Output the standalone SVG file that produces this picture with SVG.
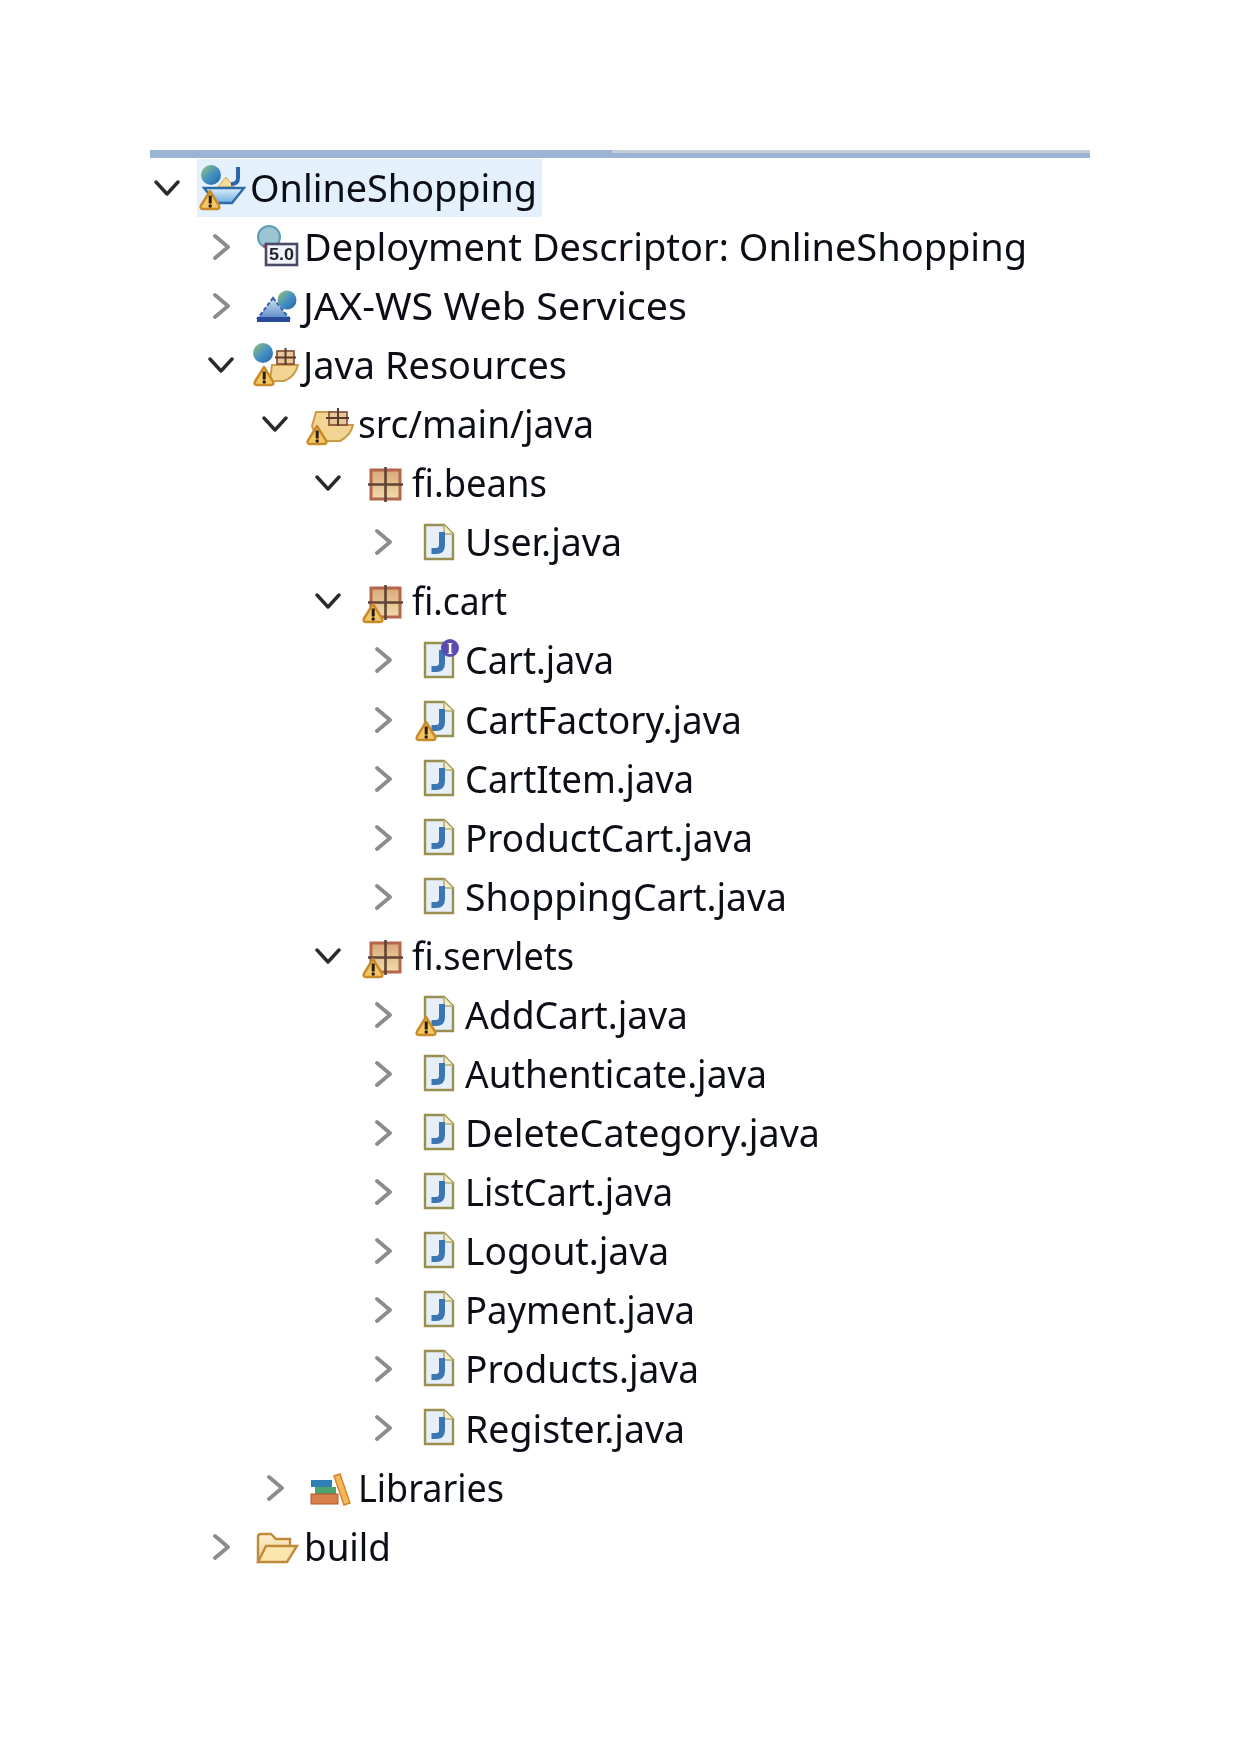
<svg xmlns="http://www.w3.org/2000/svg" width="1239" height="1754" viewBox="0 0 1239 1754">
<style>
text.l{font-family:"Noto Sans","Open Sans","Liberation Sans",sans-serif;font-size:37.500px;fill:#0a0e16}
.open{fill:none;stroke:#2b2b2b;stroke-width:3.400;stroke-linecap:round;stroke-linejoin:round}
.closed{fill:none;stroke:#8c8c8c;stroke-width:3.800;stroke-linecap:round;stroke-linejoin:round}
</style>
<defs>
<filter id="soft" x="-5%" y="-5%" width="110%" height="110%"><feGaussianBlur stdDeviation="0.6"/></filter>
<linearGradient id="pk" x1="0" y1="0" x2="0" y2="1"><stop offset="0" stop-color="#d9a878"/><stop offset="1" stop-color="#f2dcab"/></linearGradient>
<linearGradient id="gl" x1="0" y1="0" x2="1" y2="1"><stop offset="0" stop-color="#9ac478"/><stop offset="0.55" stop-color="#3f8fc4"/><stop offset="1" stop-color="#2c5f9e"/></linearGradient>
<linearGradient id="fl" x1="0" y1="0" x2="0" y2="1"><stop offset="0" stop-color="#fbf0cf"/><stop offset="1" stop-color="#f0cd86"/></linearGradient>
<linearGradient id="ja" x1="0" y1="0" x2="0" y2="1"><stop offset="0" stop-color="#cfe0f2"/><stop offset="1" stop-color="#5f8fc9"/></linearGradient>
<linearGradient id="bw" x1="0" y1="0" x2="0" y2="1"><stop offset="0" stop-color="#dceefa"/><stop offset="1" stop-color="#6faee0"/></linearGradient>
<symbol id="chevOpen" overflow="visible"><polyline class="open" points="-11,-6 0,6 11,-6"/></symbol>
<symbol id="chevClosed" overflow="visible"><polyline class="closed" points="-6,-11 7,0 -6,11"/></symbol>
<symbol id="warn" overflow="visible">
<path d="M10 1 L19 15.500 Q20.500 19 17 19 H3 Q-.5 19 1 15.500 Z" fill="#f4c766" stroke="#c98a2c" stroke-width="2.400" stroke-linejoin="round"/>
<rect x="8.700" y="5.500" width="3" height="8" fill="#2a1c08"/><circle cx="10.200" cy="16" r="1.700" fill="#2a1c08"/>
</symbol>
<symbol id="jfile" overflow="visible">
<path d="M1 1 H20 L29 10 V35 H1 Z" fill="#e6eef8" stroke="#998f50" stroke-width="2.400"/>
<path d="M20 1 V10 H29" fill="#f4eecb" stroke="#b9ae6a" stroke-width="1.600"/>
<path d="M18 8 V21 Q18 27 12 27 H7.500" fill="none" stroke="#3a74b2" stroke-width="6"/>
</symbol>
<symbol id="pkg" overflow="visible">
<rect x="3" y="3" width="29" height="29" fill="url(#pk)" stroke="#b5654a" stroke-width="3"/>
<path d="M17.500 0 V35 M0 17.500 H35" stroke="#5f4436" stroke-width="2.600" fill="none"/>
</symbol>
</defs>
<rect width="1239" height="1754" fill="#fff"/>
<g id="tree-frame">
<rect x="150" y="150" width="940" height="8" fill="#9bb3d4"/>
<rect x="612" y="150" width="478" height="3" fill="#c6cdd6"/>
<rect x="197" y="159" width="345" height="58" fill="#e4f1fc"/>
</g>
<g id="connectors"/>
<g id="nodes" filter="url(#soft)">
<g id="node-onlineshopping">
<use href="#chevOpen" x="167" y="188"/>
<circle cx="211" cy="175" r="10" fill="url(#gl)"/>
<path d="M226 177 L234 187 H218 Z" fill="#f4dc9a" stroke="#c9a860"/>
<path d="M238 167 V178 Q238 184 231 184" fill="none" stroke="#2f66ad" stroke-width="4"/>
<path d="M204 188 H244 L232 203 H216 Z" fill="url(#bw)" stroke="#2f6ba8" stroke-width="2.400"/>
<use href="#warn" x="200" y="190"/>
<text class="l" x="250" y="202" textLength="287" lengthAdjust="spacingAndGlyphs">OnlineShopping</text>
</g>
<g id="node-deployment">
<use href="#chevClosed" x="221" y="247"/>
<circle cx="269" cy="237" r="11" fill="#9cc4d2" stroke="#5f9cb8" stroke-width="2"/>
<circle cx="265" cy="246" r="2" fill="#d8455a"/>
<rect x="266" y="244" width="31" height="21" fill="#f2f3f7" stroke="#484a68" stroke-width="2.600"/>
<text x="269" y="260" font-family="Liberation Sans,sans-serif" font-size="16" font-weight="700" fill="#20222e" textLength="25" lengthAdjust="spacingAndGlyphs">5.0</text>
<text class="l" x="304" y="261" textLength="723" lengthAdjust="spacingAndGlyphs">Deployment Descriptor: OnlineShopping</text>
</g>
<g id="node-jaxws">
<use href="#chevClosed" x="221" y="306"/>
<path d="M273 298 L289 318 H258 Z" fill="url(#ja)" stroke="#3b5ea5" stroke-width="2" stroke-dasharray="4 2"/>
<rect x="257" y="317" width="33" height="5" fill="#2c4c9c"/>
<circle cx="287" cy="300" r="9.500" fill="url(#gl)"/>
<text class="l" x="303" y="320" textLength="384" lengthAdjust="spacingAndGlyphs">JAX-WS Web Services</text>
</g>
<g id="node-javaresources">
<use href="#chevOpen" x="221" y="365"/>
<circle cx="263" cy="353" r="10" fill="url(#gl)"/>
<path d="M272 365 H298 Q295 377 284 381 H270 Z" fill="#f2d592" stroke="#c99c4c" stroke-width="2"/>
<rect x="277" y="351" width="17" height="13" fill="#e9c79a" stroke="#7c4a32" stroke-width="1.600"/>
<path d="M285.500 348 V365 M275 357.500 H296" stroke="#5a3a2a" stroke-width="2"/>
<use href="#warn" x="254" y="366"/>
<text class="l" x="303" y="379" textLength="264" lengthAdjust="spacingAndGlyphs">Java Resources</text>
</g>
<g id="node-srcmainjava">
<use href="#chevOpen" x="275" y="424"/>
<path d="M312 426 L316 412 H330 V425 H353 Q351 435 340 441 H318 Z" fill="#f2d592" stroke="#c99c4c" stroke-width="2"/>
<rect x="329" y="412" width="18" height="13" fill="#e9c79a" stroke="#7c4a32" stroke-width="1.600"/>
<path d="M338 408 V426 M326 418 H349" stroke="#5a3a2a" stroke-width="2"/>
<use href="#warn" x="307" y="425"/>
<text class="l" x="358" y="438" textLength="236" lengthAdjust="spacingAndGlyphs">src/main/java</text>
</g>
<g id="node-fibeans">
<use href="#chevOpen" x="328" y="483"/>
<use href="#pkg" x="368" y="467"/>
<text class="l" x="412" y="497" textLength="135" lengthAdjust="spacingAndGlyphs">fi.beans</text>
</g>
<g id="node-user">
<use href="#chevClosed" x="383" y="542"/>
<use href="#jfile" x="424" y="524"/>
<text class="l" x="465" y="556" textLength="157" lengthAdjust="spacingAndGlyphs">User.java</text>
</g>
<g id="node-ficart">
<use href="#chevOpen" x="328" y="601"/>
<use href="#pkg" x="368" y="585"/>
<use href="#warn" x="363" y="603"/>
<text class="l" x="412" y="615" textLength="95" lengthAdjust="spacingAndGlyphs">fi.cart</text>
</g>
<g id="node-cart">
<use href="#chevClosed" x="383" y="660"/>
<use href="#jfile" x="424" y="642"/>
<circle cx="450" cy="648" r="9" fill="#5a4bb0"/>
<text x="450" y="653.500" text-anchor="middle" font-family="Liberation Serif,serif" font-size="16" font-weight="700" fill="#fff">I</text>
<text class="l" x="465" y="674" textLength="149" lengthAdjust="spacingAndGlyphs">Cart.java</text>
</g>
<g id="node-cartfactory">
<use href="#chevClosed" x="383" y="720"/>
<use href="#jfile" x="424" y="701"/>
<use href="#warn" x="416" y="721"/>
<text class="l" x="465" y="734" textLength="277" lengthAdjust="spacingAndGlyphs">CartFactory.java</text>
</g>
<g id="node-cartitem">
<use href="#chevClosed" x="383" y="779"/>
<use href="#jfile" x="424" y="760"/>
<text class="l" x="465" y="793" textLength="229" lengthAdjust="spacingAndGlyphs">CartItem.java</text>
</g>
<g id="node-productcart">
<use href="#chevClosed" x="383" y="838"/>
<use href="#jfile" x="424" y="819"/>
<text class="l" x="465" y="852" textLength="288" lengthAdjust="spacingAndGlyphs">ProductCart.java</text>
</g>
<g id="node-shoppingcart">
<use href="#chevClosed" x="383" y="897"/>
<use href="#jfile" x="424" y="878"/>
<text class="l" x="465" y="911" textLength="322" lengthAdjust="spacingAndGlyphs">ShoppingCart.java</text>
</g>
<g id="node-fiservlets">
<use href="#chevOpen" x="328" y="956"/>
<use href="#pkg" x="368" y="940"/>
<use href="#warn" x="363" y="958"/>
<text class="l" x="412" y="970" textLength="162" lengthAdjust="spacingAndGlyphs">fi.servlets</text>
</g>
<g id="node-addcart">
<use href="#chevClosed" x="383" y="1015"/>
<use href="#jfile" x="424" y="996"/>
<use href="#warn" x="416" y="1016"/>
<text class="l" x="465" y="1029" textLength="223" lengthAdjust="spacingAndGlyphs">AddCart.java</text>
</g>
<g id="node-authenticate">
<use href="#chevClosed" x="383" y="1074"/>
<use href="#jfile" x="424" y="1055"/>
<text class="l" x="465" y="1088" textLength="302" lengthAdjust="spacingAndGlyphs">Authenticate.java</text>
</g>
<g id="node-deletecategory">
<use href="#chevClosed" x="383" y="1133"/>
<use href="#jfile" x="424" y="1114"/>
<text class="l" x="465" y="1147" textLength="355" lengthAdjust="spacingAndGlyphs">DeleteCategory.java</text>
</g>
<g id="node-listcart">
<use href="#chevClosed" x="383" y="1192"/>
<use href="#jfile" x="424" y="1173"/>
<text class="l" x="465" y="1206" textLength="208" lengthAdjust="spacingAndGlyphs">ListCart.java</text>
</g>
<g id="node-logout">
<use href="#chevClosed" x="383" y="1251"/>
<use href="#jfile" x="424" y="1232"/>
<text class="l" x="465" y="1265" textLength="204" lengthAdjust="spacingAndGlyphs">Logout.java</text>
</g>
<g id="node-payment">
<use href="#chevClosed" x="383" y="1310"/>
<use href="#jfile" x="424" y="1291"/>
<text class="l" x="465" y="1324" textLength="230" lengthAdjust="spacingAndGlyphs">Payment.java</text>
</g>
<g id="node-products">
<use href="#chevClosed" x="383" y="1369"/>
<use href="#jfile" x="424" y="1350"/>
<text class="l" x="465" y="1383" textLength="234" lengthAdjust="spacingAndGlyphs">Products.java</text>
</g>
<g id="node-register">
<use href="#chevClosed" x="383" y="1428"/>
<use href="#jfile" x="424" y="1409"/>
<text class="l" x="465" y="1443" textLength="220" lengthAdjust="spacingAndGlyphs">Register.java</text>
</g>
<g id="node-libraries">
<use href="#chevClosed" x="275" y="1488"/>
<path d="M334 1476 L340 1474 L350 1503 L344 1505 Z" fill="#f2b95a" stroke="#d9802c" stroke-width="1.400"/>
<rect x="311" y="1480" width="21" height="7" fill="#2f7fb5"/>
<rect x="315" y="1487" width="21" height="7" fill="#4fa36e"/>
<rect x="311" y="1494" width="27" height="10" fill="#d77f4c" stroke="#b5592c"/>
<text class="l" x="358" y="1502" textLength="146" lengthAdjust="spacingAndGlyphs">Libraries</text>
</g>
<g id="node-build">
<use href="#chevClosed" x="221" y="1547"/>
<path d="M258 1562 V1537 Q258 1534 261 1534 H271 L276 1539 H290 V1545" fill="url(#fl)" stroke="#c08a3c" stroke-width="2.400"/>
<path d="M258 1562 L266 1546 H297 L287 1562 Z" fill="#fbe6ae" stroke="#c08a3c" stroke-width="2.400"/>
<text class="l" x="304" y="1561" textLength="87" lengthAdjust="spacingAndGlyphs">build</text>
</g>
</g>
</svg>
